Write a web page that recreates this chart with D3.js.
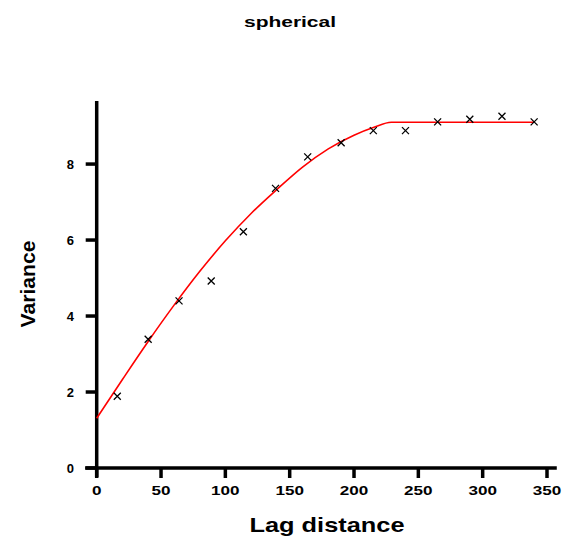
<!DOCTYPE html>
<html><head><meta charset="utf-8">
<script src="https://cdn.jsdelivr.net/npm/d3@7"></script>
<style>
html,body{margin:0;padding:0;background:#fff;}
svg{display:block;font-family:"Liberation Sans",Arial,sans-serif;}
</style></head>
<body>
<script>
// Empirical semivariogram points
const lags = [16, 40, 64, 89, 114, 139, 164, 190, 215, 240, 265, 290, 315, 340];
const variances = [1.89, 3.39, 4.40, 4.92, 6.22, 7.36, 8.19, 8.56, 8.88, 8.88, 9.11, 9.18, 9.26, 9.11];
// Fitted model curve
const modelLags = [0, 20, 40, 60, 80, 100, 120, 140, 160, 180, 200, 215, 229, 340];
const modelValues = [1.31, 2.33, 3.33, 4.28, 5.17, 5.98, 6.70, 7.33, 7.92, 8.40, 8.76, 8.96, 9.1, 9.1];
const xTicks = [0, 50, 100, 150, 200, 250, 300, 350];
const yTicks = [0, 2, 4, 6, 8];
const title = "spherical";
const xLabel = "Lag distance";
const yLabel = "Variance";

const W = 569, H = 538;
const svg = d3.select("body").append("svg").attr("width", W).attr("height", H);

const x = d3.scaleLinear().domain([0, 350]).range([96.7, 547]);
const y = d3.scaleLinear().domain([0, 9.66]).range([468, 101]);

// Axis lines
svg.append("line").attr("x1", x(-9)).attr("x2", x(357.6)).attr("y1", y(0)).attr("y2", y(0))
  .attr("stroke", "#000").attr("stroke-width", 3.5);
svg.append("line").attr("x1", x(0)).attr("x2", x(0)).attr("y1", y(0) + 9).attr("y2", y(9.66))
  .attr("stroke", "#000").attr("stroke-width", 3.5);

// X ticks
const xt = svg.append("g");
xt.selectAll("line").data(xTicks).join("line")
  .attr("x1", d => x(d)).attr("x2", d => x(d))
  .attr("y1", y(0)).attr("y2", y(0) + 10)
  .attr("stroke", "#000").attr("stroke-width", 3.5);
xt.selectAll("text").data(xTicks).join("text")
  .attr("x", d => x(d)).attr("y", 495)
  .attr("text-anchor", "middle")
  .attr("font-size", 13).attr("font-weight", "bold")
  .attr("textLength", d => String(d).length * 9.5)
  .attr("lengthAdjust", "spacingAndGlyphs")
  .text(d => d);

// Y ticks
const yt = svg.append("g");
yt.selectAll("line").data(yTicks).join("line")
  .attr("x1", x(0) - 11).attr("x2", x(0))
  .attr("y1", d => y(d)).attr("y2", d => y(d))
  .attr("stroke", "#000").attr("stroke-width", 3.5);
yt.selectAll("text").data(yTicks).join("text")
  .attr("x", 74).attr("y", d => y(d) + 5)
  .attr("text-anchor", "end")
  .attr("font-size", 13).attr("font-weight", "bold")
  .text(d => d);

// Model curve
const line = d3.line().x(d => x(d[0])).y(d => y(d[1])).curve(d3.curveMonotoneX);
svg.append("path")
  .datum(modelLags.map((l, i) => [l, modelValues[i]]))
  .attr("d", line)
  .attr("fill", "none").attr("stroke", "#ff0000").attr("stroke-width", 1.6);

// Points as small x markers
const r = 3.5;
svg.append("g").selectAll("path").data(lags.map((l, i) => [l, variances[i]])).join("path")
  .attr("d", `M${-r},${-r}L${r},${r}M${-r},${r}L${r},${-r}`)
  .attr("transform", d => `translate(${x(d[0])},${y(d[1])})`)
  .attr("fill", "none").attr("stroke", "#000").attr("stroke-width", 1.3);

// Title
svg.append("text").attr("x", 290).attr("y", 27).attr("text-anchor", "middle")
  .attr("font-size", 14).attr("font-weight", "bold")
  .attr("textLength", 92).attr("lengthAdjust", "spacingAndGlyphs")
  .text(title);

// Axis labels
svg.append("text").attr("x", 327).attr("y", 532).attr("text-anchor", "middle")
  .attr("font-size", 21).attr("font-weight", "bold")
  .attr("textLength", 155).attr("lengthAdjust", "spacingAndGlyphs")
  .text(xLabel);
svg.append("text").attr("transform", "translate(35,284) rotate(-90)")
  .attr("text-anchor", "middle")
  .attr("font-size", 21).attr("font-weight", "bold")
  .attr("textLength", 87).attr("lengthAdjust", "spacingAndGlyphs")
  .text(yLabel);
</script>
</body></html>
